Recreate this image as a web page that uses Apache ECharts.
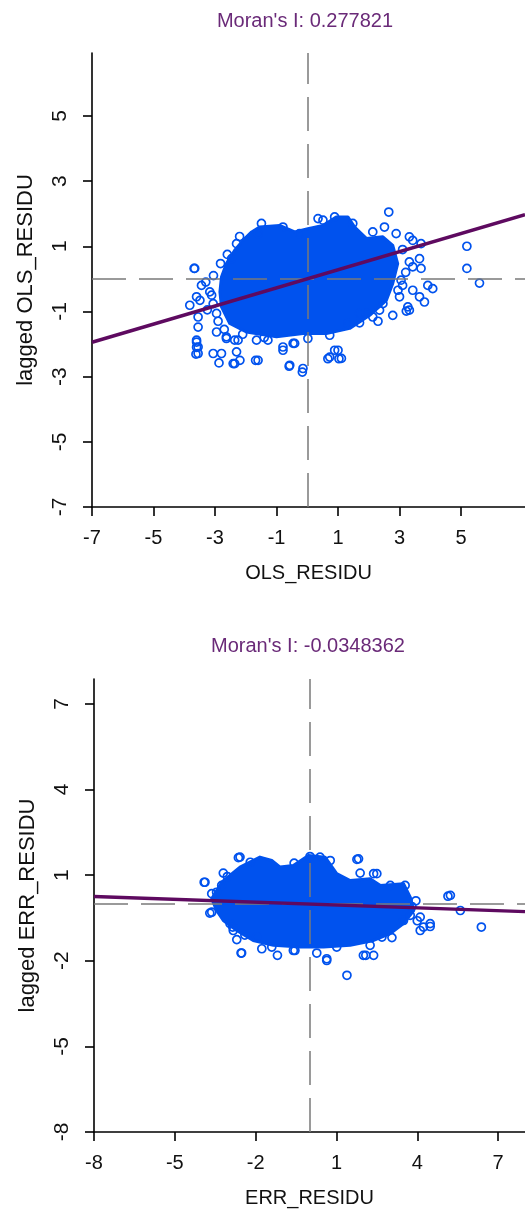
<!DOCTYPE html>
<html><head><meta charset="utf-8">
<script src="https://cdn.jsdelivr.net/npm/echarts@6/dist/echarts.min.js"></script>
<style>html,body{margin:0;padding:0;background:#fff}#c{width:525px;height:1209px}</style>
</head><body><div id="c"></div>
<script>
// ---------- data ----------
const titles = ["Moran's I: 0.277821", "Moran's I: -0.0348362"];
const xNames = ['OLS_RESIDU', 'ERR_RESIDU'];
const yNames = ['lagged OLS_RESIDU', 'lagged ERR_RESIDU'];
const olsTicks = [-7, -5, -3, -1, 1, 3, 5];
const errTicks = [-8, -5, -2, 1, 4, 7];
const meanCross = [0, 0];

// outline of the dense (fully overlapping) cloud, OLS plot
const olsBlob = [
  [-2.79,0.06],[-2.63,0.47],[-2.36,0.88],[-2.09,1.18],[-1.81,1.44],[-1.55,1.59],[-0.90,1.64],
  [-0.41,1.44],[0.02,1.54],[0.51,1.64],[0.94,1.90],[1.32,1.90],[1.54,1.59],[1.92,1.24],
  [2.46,1.29],[2.78,1.03],[2.94,0.47],[2.78,-0.14],[2.57,-0.66],[2.03,-1.12],[1.38,-1.52],
  [0.62,-1.68],[-0.14,-1.68],[-1.00,-1.78],[-1.98,-1.63],[-2.52,-1.37],[-2.79,-0.86],[-2.84,-0.40]
];
// individual circles, OLS plot
const olsPoints = [
  [2.65,2.05],[-3.66,0.32],[-1.49,1.70],[-2.30,1.08],[-2.82,0.47],[0.35,1.85],[0.89,1.90],
  [2.51,1.59],[2.89,1.39],[3.43,1.18],[3.65,0.62],[3.43,0.37],[3.92,-0.20],[4.08,-0.30],
  [3.43,-0.35],[3.00,-0.55],[3.32,-0.96],[2.46,-0.76],[2.13,-1.17],[1.70,-1.06],[1.00,-2.19],
  [0.73,-2.40],[1.11,-2.44],[-0.41,-1.98],[-0.79,-2.09],[-0.57,-2.65],[-0.14,-2.75],[-1.60,-2.50],
  [-2.19,-2.50],[-2.36,-2.60],[-2.79,-2.29],[-3.06,-2.29],[-2.30,-2.24],[-2.63,-1.78],[-1.65,-1.88],
  [-3.55,-2.29],[-3.55,-2.09],[-3.60,-1.88],[-3.55,-1.48],[-3.55,-1.17],[-3.82,-0.81],[-3.60,-0.55],
  [-3.44,-0.20],[-3.17,-0.40],[-2.95,-1.06],[5.19,1.00],[5.19,0.32],[5.60,-0.13],[-3.68,0.32],
  [3.22,-0.99],[-0.16,-2.86],[-0.59,-2.68],[0.67,-2.45],[1.03,-2.45],[0.89,-2.19],[-1.68,-2.50],
  [-2.41,-2.60],[-2.87,-2.58],[-3.62,-2.31],[-3.60,-1.94],[-3.60,-2.10],[-0.46,-1.98],[-0.79,-2.19],
  [-2.63,-1.83],[-2.36,-1.88],[-1.60,1.39],[-2.46,0.62],[3.70,0.32],[3.32,0.52],[2.95,-0.35],
  [3.05,-0.04],[3.65,-0.55],[3.81,-0.71],[3.27,-0.86],[2.78,-1.12],[2.35,-0.96],[1.92,-1.06],
  [1.32,-1.37],[0.73,-1.73],[0.02,-1.83],[-1.28,-1.88],[-2.25,-1.88],[-2.95,-1.63],[-3.49,-0.66],
  [-3.11,-0.50],[-3.06,-0.76],[-0.79,1.59],[-0.25,1.39],[0.51,1.80],[1.48,1.70],[2.13,1.44],
  [3.32,1.29],[3.70,1.08],[-3.30,-0.10],[-3.25,-0.95],[-3.05,0.10],[-2.90,-1.30],[-2.70,-1.55],
  [-2.10,-1.70],[-1.40,-1.80],[1.70,-1.35],[2.30,-1.30],[3.10,-0.20],[3.20,0.20],[3.10,0.90],
  [-2.60,0.75],[-2.20,1.30]
];
const olsLine = [[-7, -1.945], [7.08, 1.967]];

// outline of the dense cloud, ERR plot
const errBlob = [
  [-3.63,0.17],[-3.26,0.75],[-2.58,1.28],[-1.84,1.63],[-1.40,1.51],[-1.09,1.28],[-0.60,1.34],
  [-0.04,1.69],[0.58,1.63],[1.01,1.05],[1.51,0.81],[2.25,0.87],[2.62,0.64],[3.49,0.70],
  [3.74,0.23],[3.87,-0.24],[3.49,-0.70],[3.00,-1.05],[2.38,-1.29],[1.51,-1.46],[0.52,-1.52],
  [-0.35,-1.52],[-1.34,-1.46],[-2.09,-1.29],[-2.70,-0.94],[-3.20,-0.59],[-3.45,-0.24]
];
const errPoints = [
  [-3.88,0.75],[-2.58,1.63],[-3.20,1.07],[-3.63,-0.30],[-2.85,-0.82],[-2.70,-1.26],[-2.52,-1.73],
  [-1.77,-1.58],[-1.19,-1.81],[-0.54,-1.64],[0.27,-1.73],[0.64,-1.93],[1.39,-2.51],[2.09,-1.81],
  [2.38,-1.81],[2.25,-1.46],[3.06,-1.19],[4.11,-0.94],[4.48,-0.70],[4.11,-0.47],[5.23,0.29],
  [5.60,-0.24],[6.38,-0.82],[1.82,1.57],[1.88,1.07],[2.38,1.05],[3.55,0.64],[-0.57,1.42],
  [0.02,1.65],[0.39,1.63],[-3.63,0.35],[-2.64,1.61],[-3.91,0.75],[-3.70,-0.33],[5.14,0.26],
  [1.76,1.55],[-2.54,-1.73],[-0.60,-1.64],[4.48,-0.80],[2.00,-1.81],[0.64,-1.99],
  [-3.26,0.64],[-3.45,0.40],[-2.83,-0.94],[-1.96,-1.17],[-1.40,-1.52],[1.01,-1.52],[2.69,-1.17],
  [3.49,-0.59],[3.74,-0.41],[4.23,-0.82],[3.00,0.64],[2.50,1.05],[0.77,1.51],
  [-2.95,-0.70],[-2.40,-1.10],[-3.05,0.95],[-2.20,1.45],[3.95,0.10],[3.80,-0.10],[4.00,-0.60]
];
const errLine = [[-8, 0.25], [8, -0.28]];

// ---------- chart ----------
const BLUE = '#0052EE';
const PURPLE = '#5E0A60';
const FONT = "'Liberation Sans', Arial, sans-serif";

const grids = [
  {left: 92, top: 53, width: 433, height: 454},
  {left: 94, top: 679, width: 431, height: 453}
];
const xRanges = [[-7, 7.08], [-8, 8]];
const yRanges = [[-7, 6.93], [-8, 7.87]];
const ticks = [olsTicks, errTicks];

function xAxisOf(i) {
  return {
    gridIndex: i, type: 'value', min: xRanges[i][0], max: xRanges[i][1],
    name: xNames[i], nameLocation: 'middle', nameGap: 66,
    nameTextStyle: {fontFamily: FONT, fontSize: 20, color: '#111', verticalAlign: 'middle'},
    axisLine: {show: true, onZero: false, lineStyle: {color: '#000', width: 1.6}},
    axisTick: {show: true, length: 9, customValues: ticks[i], lineStyle: {color: '#000', width: 1.6}},
    axisLabel: {customValues: ticks[i], margin: 31, verticalAlign: 'middle',
      fontFamily: FONT, fontSize: 20, color: '#111'},
    splitLine: {show: false}
  };
}
function yAxisOf(i) {
  return {
    gridIndex: i, type: 'value', min: yRanges[i][0], max: yRanges[i][1],
    name: yNames[i], nameLocation: 'middle', nameGap: 66, nameRotate: 90,
    nameTextStyle: {fontFamily: FONT, fontSize: 22, color: '#111', verticalAlign: 'middle'},
    axisLine: {show: true, onZero: false, lineStyle: {color: '#000', width: 1.6}},
    axisTick: {show: true, length: 9, customValues: ticks[i], lineStyle: {color: '#000', width: 1.6}},
    axisLabel: {customValues: ticks[i], rotate: 90, margin: 32, verticalAlign: 'middle', align: 'center',
      fontFamily: FONT, fontSize: 21, color: '#111'},
    splitLine: {show: false}
  };
}
function blobSeries(i, outline) {
  return {
    type: 'custom', xAxisIndex: i, yAxisIndex: i, silent: true, z: 1,
    data: [[0, 0]],
    renderItem: (params, api) => ({
      type: 'polygon',
      shape: {points: outline.map(p => api.coord(p))},
      style: {fill: BLUE, stroke: BLUE, lineWidth: 3, lineJoin: 'round'}
    })
  };
}
function pointSeries(i, pts) {
  return {
    type: 'scatter', xAxisIndex: i, yAxisIndex: i, silent: true, z: 2,
    symbol: 'circle', symbolSize: 8, data: pts,
    itemStyle: {color: 'rgba(0,0,0,0)', borderColor: BLUE, borderWidth: 1.7, opacity: 1},
    markLine: {
      silent: true, symbol: 'none', z: 3, animation: false,
      label: {show: false},
      lineStyle: {color: '#7a7a7a', width: 1.5, type: [34, 13]},
      data: [{xAxis: meanCross[0]}, {yAxis: meanCross[1]}]
    }
  };
}
function lineSeries(i, pts) {
  return {
    type: 'line', xAxisIndex: i, yAxisIndex: i, silent: true, z: 4,
    data: pts, showSymbol: false, symbol: 'none',
    lineStyle: {color: PURPLE, width: 3.4}
  };
}

const chart = echarts.init(document.getElementById('c'), null, {renderer: 'canvas'});
chart.setOption({
  animation: false,
  backgroundColor: '#fff',
  title: [
    {text: titles[0], left: 305, top: 21, textAlign: 'center', textVerticalAlign: 'middle', padding: 0,
     textStyle: {fontFamily: FONT, fontSize: 20, fontWeight: 'normal', color: '#6A2A78'}},
    {text: titles[1], left: 308, top: 646, textAlign: 'center', textVerticalAlign: 'middle', padding: 0,
     textStyle: {fontFamily: FONT, fontSize: 20, fontWeight: 'normal', color: '#6A2A78'}}
  ],
  grid: grids.map(g => Object.assign({outerBoundsMode: 'none', containLabel: false}, g)),
  xAxis: [xAxisOf(0), xAxisOf(1)],
  yAxis: [yAxisOf(0), yAxisOf(1)],
  series: [
    blobSeries(0, olsBlob), pointSeries(0, olsPoints), lineSeries(0, olsLine),
    blobSeries(1, errBlob), pointSeries(1, errPoints), lineSeries(1, errLine)
  ]
});
</script>
</body></html>
